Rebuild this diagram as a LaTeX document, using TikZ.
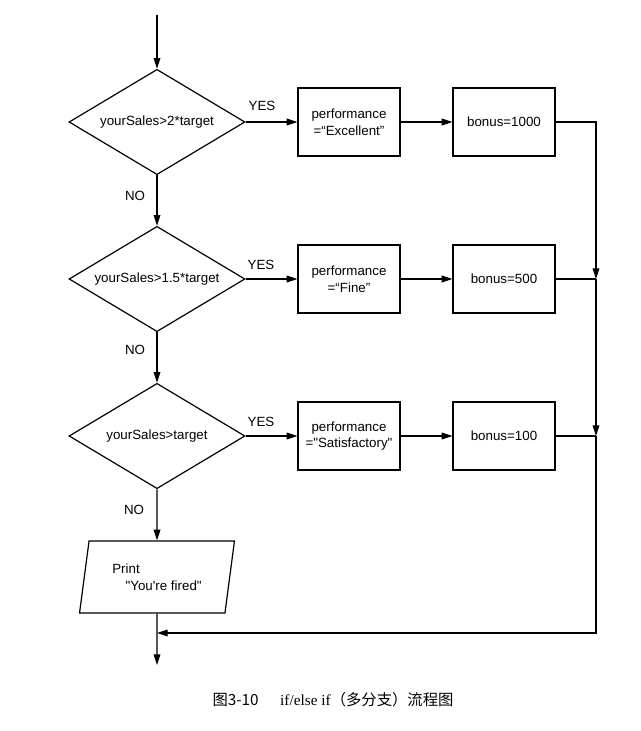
\documentclass[tikz,border=0pt]{standalone}
\usepackage{fontspec}
\setmainfont{Liberation Sans}
\newfontfamily\rawsans{Liberation Sans}
\newfontfamily\cjk{Noto Sans CJK SC}
\newfontfamily\capserif{Liberation Serif}
\usetikzlibrary{shapes.geometric,arrows.meta}
\newcommand{\sq}{{\rawsans "}}
\newcommand{\sap}{{\rawsans '}}
\begin{document}
\begin{tikzpicture}[x=0.75pt,y=-0.75pt,
  every node/.style={font=\fontsize{10}{12.5}\selectfont},
  line/.style={line width=0.9pt},
  arr/.style={line width=0.9pt, -{Triangle[length=8pt,width=5pt]}},
  decision/.style={draw, line width=0.9pt, diamond, aspect=1.66, minimum width=132pt, minimum height=79pt, inner sep=0pt},
  proc/.style={draw, line width=0.9pt, rectangle, minimum width=76.5pt, minimum height=51pt, align=center, inner sep=0pt},
  io/.style={draw, line width=0.9pt, trapezium, trapezium left angle=76.7, trapezium right angle=103.3, trapezium stretches=true, minimum width=117pt, minimum height=54pt, align=left, inner sep=0pt},
  lbl/.style={inner sep=0pt}
]
\useasboundingbox (0,0) rectangle (640,731);
\coordinate (start) at (157,15);
\node[decision] (d1) at (157,122) {yourSales>2*target};
\node[decision] (d2) at (157,279) {yourSales>1.5*target};
\node[decision] (d3) at (157,436) {yourSales>target};
\node[proc] (p1) at (349,122) {performance\\=“Excellent”};
\node[proc] (b1) at (504,122) {bonus=1000};
\node[proc] (p2) at (349,279) {performance\\=“Fine”};
\node[proc] (b2) at (504,279) {bonus=500};
\node[proc] (p3) at (349,436) {performance\\=\sq Satisfactory\sq};
\node[proc] (b3) at (504,436) {bonus=100};
\node[io] (pr) at (157,577) {Print\\\hspace*{1em}\sq You\sap re fired\sq};
\coordinate (j2) at (596,279);
\coordinate (j3) at (596,436);
\coordinate (m) at (157,633);
\coordinate (end) at (157,665);

\node[lbl] (yes1) at (262,106) {YES};
\node[lbl] (yes2) at (261,265) {YES};
\node[lbl] (yes3) at (261,422) {YES};
\node[lbl] (no1) at (135,196) {NO};
\node[lbl] (no2) at (135,350) {NO};
\node[lbl] (no3) at (134,510) {NO};

\draw[arr] (start) -- (d1.north);
\draw[arr] (d1.south) -- (d2.north);
\draw[arr] (d2.south) -- (d3.north);
\draw[arr] (d3.south) -- (pr.north);
\draw[arr] (d1.east) -- (p1.west);
\draw[arr] (d2.east) -- (p2.west);
\draw[arr] (d3.east) -- (p3.west);
\draw[arr] (p1.east) -- (b1.west);
\draw[arr] (p2.east) -- (b2.west);
\draw[arr] (p3.east) -- (b3.west);
\draw[arr] (b1.east) -| (j2);
\draw[line] (b2.east) -- (j2);
\draw[arr] (j2) -- (j3);
\draw[line] (b3.east) -- (j3);
\draw[arr] (j3) |- (m);
\draw[arr] (pr.south) -- (end);

\node (cap) at (333,700) {\fontsize{11.5}{13}\selectfont{\cjk 图3-10}\hspace{1.4em}{\capserif if/else if}{\cjk （多分支）流程图}};
\end{tikzpicture}
\end{document}
